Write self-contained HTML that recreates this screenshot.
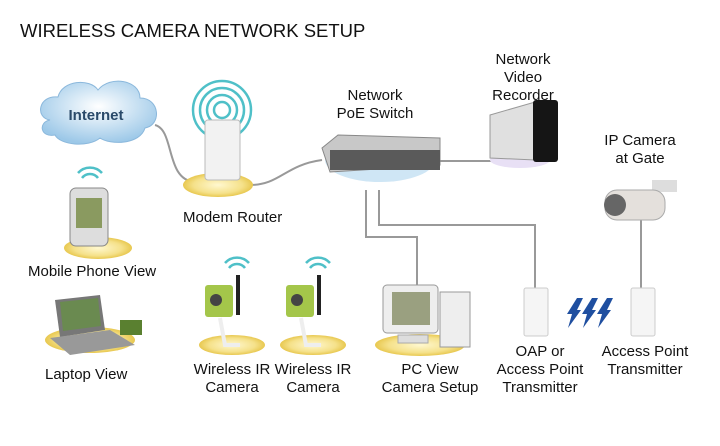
<!DOCTYPE html>
<html><head><meta charset="utf-8"><style>
body{margin:0;width:720px;height:446px;background:#fff;overflow:hidden;position:relative;font-family:"Liberation Sans",sans-serif;color:#111}
.t{position:absolute;font-size:15px;line-height:18px;text-align:center;white-space:nowrap}
</style></head><body>
<svg width="720" height="446" style="position:absolute;left:0;top:0">
<defs>
<radialGradient id="yel" cx="50%" cy="50%" r="50%"><stop offset="0" stop-color="#fff8d0"/><stop offset="0.7" stop-color="#f5e18a"/><stop offset="1" stop-color="#e8c850"/></radialGradient>
<radialGradient id="cl" cx="50%" cy="40%" r="60%"><stop offset="0" stop-color="#ffffff"/><stop offset="1" stop-color="#9cc8e8"/></radialGradient>
</defs>
<g fill="none" stroke="#999" stroke-width="2">
<path d="M155 125 C175 130 165 180 195 182"/>
<path d="M250 185 C280 185 285 165 322 160"/>
<path d="M440 161 L495 161"/>
<path d="M366 190 L366 237 L417 237 L417 287"/>
<path d="M379 190 L379 225 L535 225 L535 290"/>
<path d="M641 218 L641 288"/>
</g>
<path d="M50 120 C35 118 38 95 58 97 C62 80 90 78 98 90 C110 75 140 80 140 98 C160 98 162 125 145 128 C140 145 110 145 100 138 C88 148 60 145 55 135 C40 138 38 122 50 120Z" fill="url(#cl)" stroke="#8bb8dc"/>
<text x="96" y="120" font-family="Liberation Sans" font-weight="bold" font-size="15" fill="#2a4a6a" text-anchor="middle">Internet</text>
<ellipse cx="218" cy="185" rx="35" ry="12" fill="url(#yel)"/>
<ellipse cx="98" cy="248" rx="34" ry="11" fill="url(#yel)"/>
<ellipse cx="90" cy="340" rx="45" ry="13" fill="url(#yel)"/>
<ellipse cx="232" cy="345" rx="33" ry="10" fill="url(#yel)"/>
<ellipse cx="313" cy="345" rx="33" ry="10" fill="url(#yel)"/>
<ellipse cx="420" cy="345" rx="45" ry="11" fill="url(#yel)"/>
<g fill="none" stroke="#4fc0c8" stroke-width="2.5">
<circle cx="222" cy="110" r="8"/><circle cx="222" cy="110" r="15"/><circle cx="222" cy="110" r="22"/><circle cx="222" cy="110" r="29"/>
</g>
<rect x="205" y="120" width="35" height="60" rx="3" fill="#f2f2f2" stroke="#bbb"/>
<ellipse cx="380" cy="160" rx="55" ry="22" fill="#cfe6f5"/>
<path d="M322 148 L338 135 L440 138 L440 165 L330 172 Z" fill="#c8c8c8" stroke="#888"/>
<rect x="330" y="150" width="110" height="20" fill="#5a5a5a"/>
<ellipse cx="520" cy="160" rx="30" ry="8" fill="#e8e0f5"/>
<path d="M490 115 L535 102 L535 160 L490 158Z" fill="#e0e0e0" stroke="#999"/>
<rect x="533" y="100" width="25" height="62" rx="3" fill="#151515"/>
<rect x="652" y="180" width="25" height="12" fill="#ddd"/>
<rect x="605" y="190" width="60" height="30" rx="12" fill="#e4e0dc" stroke="#aaa"/>
<circle cx="615" cy="205" r="11" fill="#666"/>
<rect x="70" y="188" width="38" height="58" rx="6" fill="#ddd" stroke="#888"/>
<rect x="76" y="198" width="26" height="30" fill="#8a9a60"/>
<g fill="none" stroke="#4fc0c8" stroke-width="2.5"><path d="M82 178 a10 10 0 0 1 16 0"/><path d="M78 173 a16 16 0 0 1 24 0"/></g>
<path d="M55 300 L100 295 L105 330 L60 337Z" fill="#777"/><path d="M60 302 L98 298 L101 326 L63 331Z" fill="#6a8a50"/>
<path d="M50 338 L110 330 L135 345 L70 355Z" fill="#999"/>
<rect x="120" y="320" width="22" height="15" fill="#5a8030"/>
<g>
<rect x="205" y="285" width="28" height="32" rx="3" fill="#a4c64a"/><circle cx="216" cy="300" r="6" fill="#444"/>
<rect x="236" y="275" width="4" height="40" fill="#222"/>
<path d="M220 318 L225 345 L240 345" fill="none" stroke="#eee" stroke-width="4"/>
<g fill="none" stroke="#4fc0c8" stroke-width="2.5"><path d="M229 268 a10 10 0 0 1 16 0"/><path d="M225 263 a16 16 0 0 1 24 0"/></g>
</g>
<g transform="translate(81,0)">
<rect x="205" y="285" width="28" height="32" rx="3" fill="#a4c64a"/><circle cx="216" cy="300" r="6" fill="#444"/>
<rect x="236" y="275" width="4" height="40" fill="#222"/>
<path d="M220 318 L225 345 L240 345" fill="none" stroke="#eee" stroke-width="4"/>
<g fill="none" stroke="#4fc0c8" stroke-width="2.5"><path d="M229 268 a10 10 0 0 1 16 0"/><path d="M225 263 a16 16 0 0 1 24 0"/></g>
</g>
<rect x="383" y="285" width="55" height="48" rx="4" fill="#eee" stroke="#999"/>
<rect x="392" y="292" width="38" height="33" fill="#9aa080"/>
<rect x="440" y="292" width="30" height="55" fill="#eee" stroke="#999"/>
<rect x="398" y="335" width="30" height="8" fill="#ddd" stroke="#aaa"/>
<rect x="524" y="288" width="24" height="48" rx="2" fill="#f5f5f5" stroke="#ccc"/>
<rect x="631" y="288" width="24" height="48" rx="2" fill="#f5f5f5" stroke="#ccc"/>
<g fill="#1f4fa0">
<path d="M577 298 L583 298 L577 310 L581 310 L568 328 L572 314 L567 314Z"/>
<path d="M592 298 L598 298 L592 310 L596 310 L583 328 L587 314 L582 314Z"/>
<path d="M607 298 L613 298 L607 310 L611 310 L598 328 L602 314 L597 314Z"/>
</g>
</svg>
<div class="t" style="left:20px;top:20px;font-size:18.5px;line-height:22px;text-align:left">WIRELESS CAMERA NETWORK SETUP</div>
<div class="t" style="left:183px;top:209px;text-align:left">Modem Router</div>
<div class="t" style="left:320px;top:87px;width:110px">Network<br>PoE Switch</div>
<div class="t" style="left:468px;top:51px;width:110px">Network<br>Video<br>Recorder</div>
<div class="t" style="left:585px;top:132px;width:110px">IP Camera<br>at Gate</div>
<div class="t" style="left:28px;top:263px;text-align:left">Mobile Phone View</div>
<div class="t" style="left:45px;top:366px;text-align:left">Laptop View</div>
<div class="t" style="left:182px;top:361px;width:100px">Wireless IR<br>Camera</div>
<div class="t" style="left:263px;top:361px;width:100px">Wireless IR<br>Camera</div>
<div class="t" style="left:370px;top:361px;width:120px">PC View<br>Camera Setup</div>
<div class="t" style="left:480px;top:343px;width:120px">OAP or<br>Access Point<br>Transmitter</div>
<div class="t" style="left:585px;top:343px;width:120px">Access Point<br>Transmitter</div>
</body></html>
